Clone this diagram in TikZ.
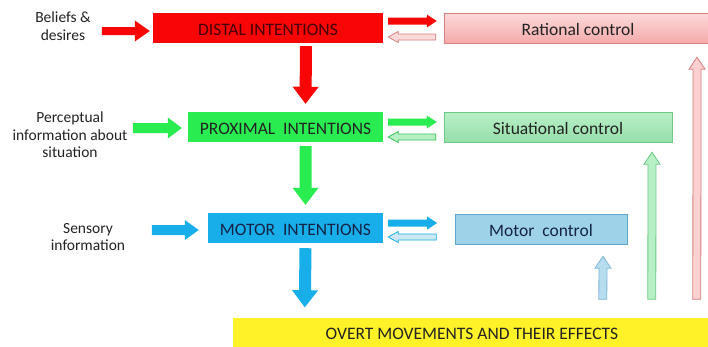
\documentclass[tikz,border=0pt]{standalone}
\usepackage{fontspec}
\setmainfont{Carlito}
\usetikzlibrary{calc}
\definecolor{cRed}{RGB}{248,6,6}
\definecolor{cRedTxt}{RGB}{70,0,0}
\definecolor{cPinkT}{RGB}{252,218,218}
\definecolor{cPinkB}{RGB}{244,170,170}
\definecolor{cPinkD}{RGB}{214,128,128}
\definecolor{cGreen}{RGB}{40,236,80}
\definecolor{cLGreenT}{RGB}{184,240,198}
\definecolor{cLGreenB}{RGB}{150,222,170}
\definecolor{cLGreenD}{RGB}{110,200,135}
\definecolor{cBlue}{RGB}{24,174,234}
\definecolor{cBlueTxt}{RGB}{20,35,70}
\definecolor{cLBlue}{RGB}{158,210,232}
\definecolor{cLBlueD}{RGB}{95,165,205}
\definecolor{cYellow}{RGB}{255,242,40}
\definecolor{cTxt}{RGB}{35,35,35}
% block arrow: #1 style, #2 start, #3 end, #4 half body, #5 half head, #6 head length (all in pt)
\newcommand\blockarr[6]{%
  \coordinate (ba-h) at ($(#3)!#6pt!(#2)$);
  \path[#1] ($(#2)!#4pt!90:(#3)$) -- ($(ba-h)!#4pt!90:(#3)$) -- ($(ba-h)!#5pt!90:(#3)$)
    -- (#3) -- ($(ba-h)!#5pt!-90:(#3)$) -- ($(ba-h)!#4pt!-90:(#3)$) -- ($(#2)!#4pt!-90:(#3)$) -- cycle;
}
\begin{document}
\begin{tikzpicture}[x=1pt,y=-1pt,
  box/.style={minimum height=30pt, inner sep=0pt, text height=14pt, text depth=0pt,
    font=\fontsize{17.5}{20}\selectfont, text=cTxt},
  lbl/.style={align=center, font=\fontsize{15.5}{17.5}\selectfont, text=cTxt},
  redA/.style={fill=cRed},
  redO/.style={fill=cPinkT, draw=cPinkD, line width=0.8pt},
  greenA/.style={fill=cGreen},
  greenO/.style={fill=cLGreenT, draw=cGreen!80!black!90, line width=0.8pt},
  blueA/.style={fill=cBlue},
  blueO/.style={fill=cLBlue!50, draw=cBlue, line width=0.8pt}]
\useasboundingbox[fill=white] (0,0) rectangle (708,346);

% boxes
\node[box, fill=cRed, minimum width=230pt, text=cRedTxt] (distal) at (268,28) {DISTAL INTENTIONS};
\node[box, top color=cPinkT, bottom color=cPinkB, draw=cPinkD, minimum width=268pt] (rational) at (578,28) {Rational control};
\node[box, fill=cGreen, minimum width=195pt] (proximal) at (285.5,127) {PROXIMAL\ \ INTENTIONS};
\node[box, top color=cLGreenT, bottom color=cLGreenB, draw=cLGreenD, minimum width=228pt] (situational) at (558,127) {Situational control};
\node[box, fill=cBlue, minimum width=175pt, text=cBlueTxt] (motor) at (295.5,228) {MOTOR\ \ INTENTIONS};
\node[box, fill=cLBlue, draw=cLBlueD, minimum width=172pt, text=cBlueTxt] (motorctl) at (541,229) {Motor\ \ control};
\node[box, fill=cYellow, minimum width=478pt, minimum height=29pt] (overt) at (472,332) {OVERT MOVEMENTS AND THEIR EFFECTS};

% labels
\node[lbl] (beliefs) at (63,26) {Beliefs \&\\desires};
\node[lbl] (percept) at (70,135) {Perceptual\\information about\\situation};
\node[lbl] (sensory) at (88,237) {Sensory\\information};

% input arrows
\coordinate (r1s) at ($(distal.west)+(-51,3)$);
\coordinate (r1e) at ($(distal.west)+(-3,3)$);
\blockarr{redA}{r1s}{r1e}{4}{10.5}{15}
\coordinate (g1s) at ($(proximal.west)+(-55,1)$);
\coordinate (g1e) at ($(proximal.west)+(-6,1)$);
\blockarr{greenA}{g1s}{g1e}{5}{10.5}{14}
\coordinate (b1s) at ($(motor.west)+(-56,2)$);
\coordinate (b1e) at ($(motor.west)+(-9,2)$);
\blockarr{blueA}{b1s}{b1e}{5}{10}{14}

% down arrows
\coordinate (d1s) at ($(distal.south)+(38,3)$);
\coordinate (d1e) at ($(proximal.north)+(20,-8)$);
\blockarr{redA}{d1s}{d1e}{6}{13}{17}
\coordinate (d2s) at ($(proximal.south)+(20,4)$);
\coordinate (d2e) at ($(motor.north)+(10,-8)$);
\blockarr{greenA}{d2s}{d2e}{6}{13}{17}
\coordinate (d3s) at ($(motor.south)+(10,5)$);
\coordinate (d3e) at ($(overt.north west)+(72,-10)$);
\blockarr{blueA}{d3s}{d3e}{6}{13}{17}

% right/left exchange arrows
\coordinate (rr1s) at ($(distal.east)+(5,-7)$);
\coordinate (rr1e) at ($(rational.west)+(-7,-7)$);
\blockarr{redA}{rr1s}{rr1e}{3.5}{6.5}{10}
\coordinate (rl1s) at ($(rational.west)+(-8,9)$);
\coordinate (rl1e) at ($(distal.east)+(5,9)$);
\blockarr{redO}{rl1s}{rl1e}{3}{5.5}{10}

\coordinate (rr2s) at ($(proximal.east)+(5,-5)$);
\coordinate (rr2e) at ($(situational.west)+(-7,-5)$);
\blockarr{greenA}{rr2s}{rr2e}{3.5}{6.5}{10}
\coordinate (rl2s) at ($(situational.west)+(-8,10)$);
\coordinate (rl2e) at ($(proximal.east)+(5,10)$);
\blockarr{greenO}{rl2s}{rl2e}{3}{5.5}{10}

\coordinate (rr3s) at ($(motor.east)+(5,-5)$);
\coordinate (rr3e) at ($(motor.east)+(54,-5)$);
\blockarr{blueA}{rr3s}{rr3e}{3.5}{6.5}{10}
\coordinate (rl3s) at ($(motor.east)+(53,9)$);
\coordinate (rl3e) at ($(motor.east)+(5,9)$);
\blockarr{blueO}{rl3s}{rl3e}{3}{5.5}{10}

% feedback up arrows
\coordinate (u1s) at ($(overt.north west)+(370,-18)$);
\coordinate (u1e) at ($(motorctl.south)+(62,12)$);
\blockarr{fill=cLBlue!75, draw=cLBlueD!80, line width=0.8pt}{u1s}{u1e}{4}{8}{12}
\coordinate (u2s) at ($(overt.north west)+(419,-18)$);
\coordinate (u2e) at ($(situational.south)+(94,10)$);
\blockarr{fill=cLGreenT, draw=cLGreenD, line width=0.8pt}{u2s}{u2e}{4}{8}{12}
\coordinate (u3s) at ($(overt.north west)+(464,-18)$);
\coordinate (u3e) at ($(rational.south)+(119,14)$);
\blockarr{fill=cPinkT!80!cPinkB, draw=cPinkD, line width=0.8pt}{u3s}{u3e}{4}{8}{12}
\end{tikzpicture}
\end{document}
